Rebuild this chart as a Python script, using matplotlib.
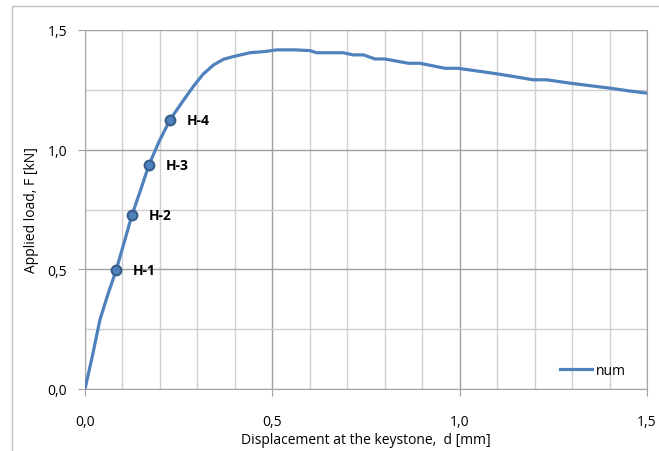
import matplotlib.pyplot as plt
import matplotlib.patches as mpatches
from matplotlib.ticker import MultipleLocator, FuncFormatter

# Curva carico-spostamento (num)
disp = [0.0, 0.02, 0.04, 0.06, 0.083, 0.105, 0.125, 0.148, 0.171, 0.198, 0.227,
        0.26, 0.289, 0.315, 0.343, 0.37, 0.396, 0.44, 0.48, 0.512, 0.56, 0.6,
        0.618, 0.654, 0.689, 0.716, 0.743, 0.774, 0.80, 0.863, 0.894, 0.961,
        0.996, 1.05, 1.099, 1.15, 1.196, 1.232, 1.294, 1.35, 1.401, 1.45, 1.5]
load = [0.0, 0.14, 0.29, 0.39, 0.496, 0.615, 0.725, 0.83, 0.9375, 1.035, 1.125,
        1.2, 1.264, 1.315, 1.354, 1.378, 1.389, 1.405, 1.41, 1.417, 1.417, 1.414,
        1.405, 1.405, 1.405, 1.396, 1.396, 1.379, 1.379, 1.361, 1.361, 1.340,
        1.340, 1.328, 1.317, 1.304, 1.292, 1.292, 1.278, 1.267, 1.257, 1.246, 1.236]

# Punti notevoli
pt_names = ['H-1', 'H-2', 'H-3', 'H-4']
pt_disp = [0.083, 0.125, 0.171, 0.227]
pt_load = [0.496, 0.725, 0.9375, 1.125]

blue = '#4F81BD'

fig = plt.figure(figsize=(6.59, 4.52), dpi=100)
plt.rcParams['font.family'] = ['Open Sans', 'DejaVu Sans']

# cornice esterna
frame = mpatches.Rectangle((12 / 659, -0.05), 1.0, (452 - 7) / 452 + 0.05,
                           transform=fig.transFigure, fill=False,
                           edgecolor='#bfbfbf', linewidth=1.0)
fig.patches.append(frame)

ax = fig.add_axes([85 / 659, (452 - 390) / 452, (647 - 85) / 659, (390 - 31) / 452])
ax.plot(disp, load, color=blue, linewidth=2.3, label='num', zorder=3)
ax.plot(pt_disp, pt_load, 'o', markersize=7, markerfacecolor=blue,
        markeredgecolor='#385D8A', markeredgewidth=1.5, zorder=4)
for n, xv, yv in zip(pt_names, pt_disp, pt_load):
    ax.annotate(n, (xv, yv), xytext=(12, 0), textcoords='offset points',
                fontsize=10, fontweight='bold', va='center', ha='left')

ax.set_xlim(0, 1.5)
ax.set_ylim(0, 1.5)
ax.xaxis.set_major_locator(MultipleLocator(0.5))
ax.xaxis.set_minor_locator(MultipleLocator(0.1))
ax.yaxis.set_major_locator(MultipleLocator(0.5))
ax.yaxis.set_minor_locator(MultipleLocator(0.25))
fmt = FuncFormatter(lambda v, p: ('%.1f' % v).replace('.', ','))
ax.xaxis.set_major_formatter(fmt)
ax.yaxis.set_major_formatter(fmt)

ax.grid(which='major', color='#a0a0a0', linewidth=1.0)
ax.grid(which='minor', color='#cfcfcf', linewidth=1.0)
ax.set_axisbelow(True)
ax.tick_params(which='major', length=5, color='#a0a0a0', labelsize=10, pad=8)
ax.tick_params(axis='x', which='major', pad=13)
ax.tick_params(which='minor', length=0)
for s in ax.spines.values():
    s.set_color('#a6a6a6')
ax.spines['top'].set_visible(False)

ax.set_xlabel('Displacement at the keystone,  d [mm]', fontsize=10, labelpad=2)
ax.set_ylabel('Applied load, F [kN]', fontsize=10, labelpad=6)

ax.legend(loc='lower right', frameon=False, fontsize=10, handlelength=2.3,
          handletextpad=0.3, bbox_to_anchor=(0.985, -0.005))

fig.savefig('out.png', dpi=100)
